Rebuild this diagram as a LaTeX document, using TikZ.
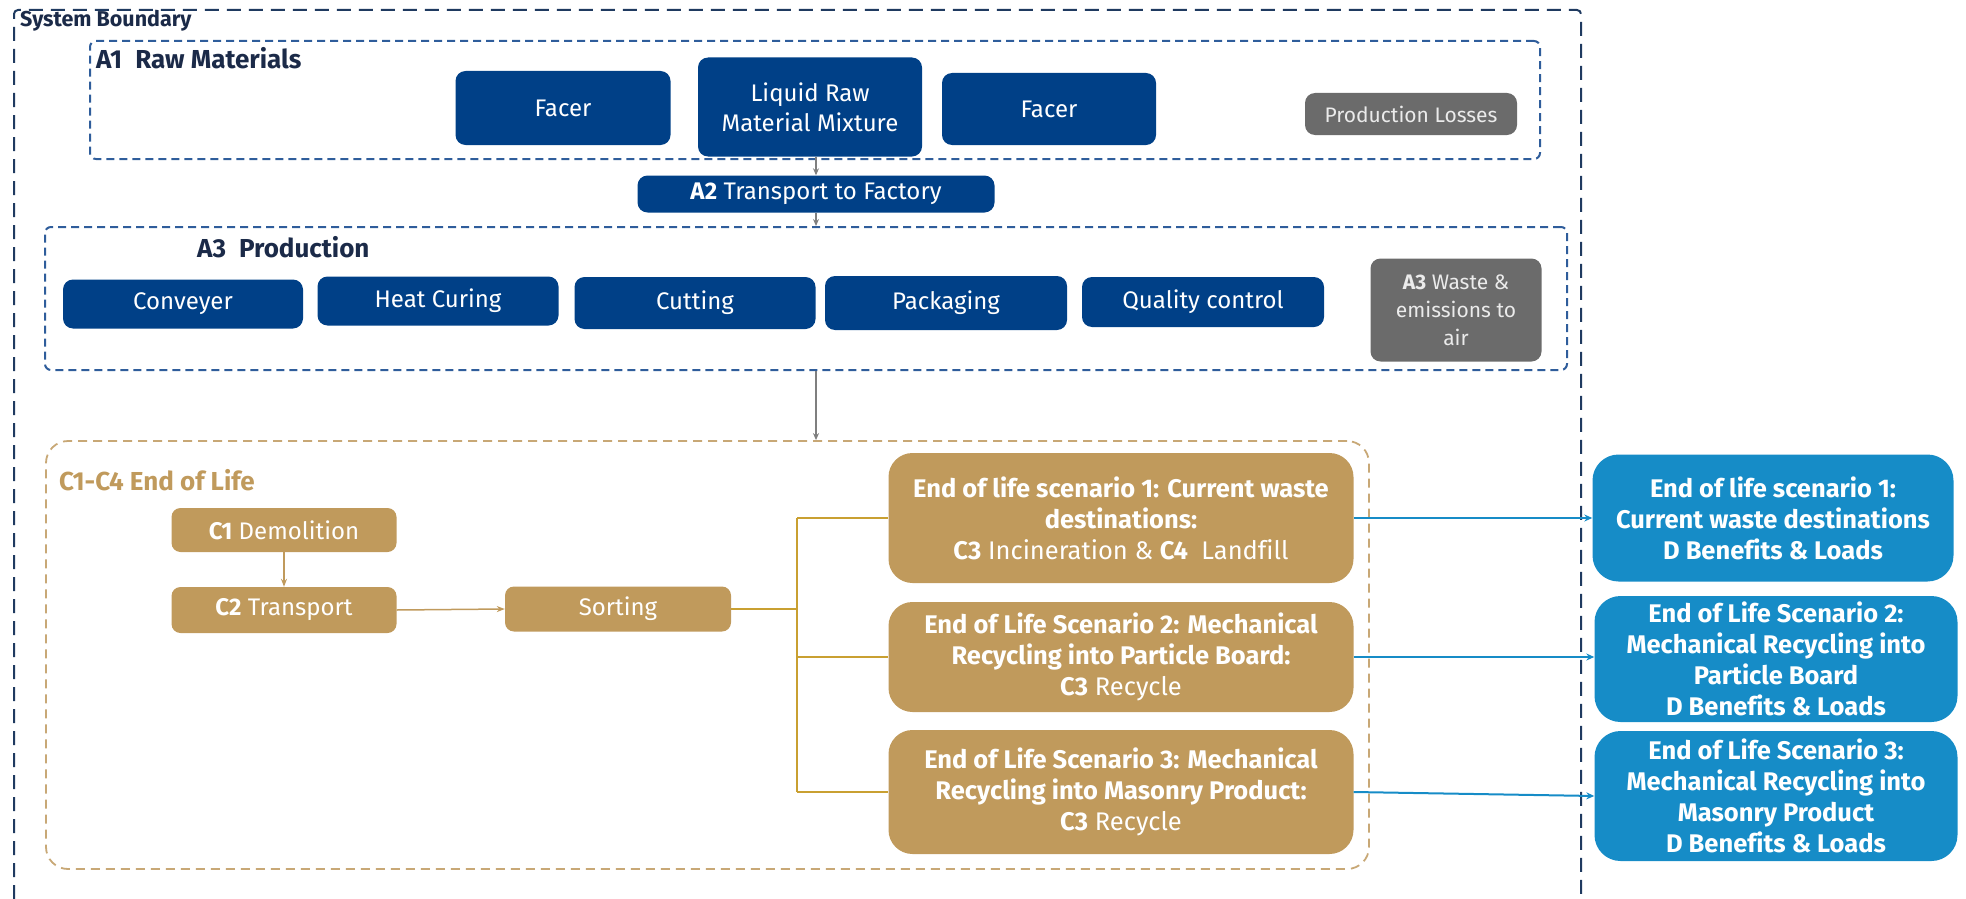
\documentclass[tikz,border=0pt]{standalone}
\usepackage{fontspec}
\setmainfont{Fira Sans}[Ligatures=NoCommon]
\usetikzlibrary{arrows.meta}
\definecolor{navy}{HTML}{004087}
\definecolor{navytext}{HTML}{1B2A48}
\definecolor{dashblue}{HTML}{2F5D9B}
\definecolor{boundary}{HTML}{1F3A60}
\definecolor{graybox}{HTML}{6B6B6B}
\definecolor{tan}{HTML}{C09A5C}
\definecolor{tanline}{HTML}{C9A031}
\definecolor{tandash}{HTML}{C8A876}
\definecolor{bluebox}{HTML}{168CC7}
\definecolor{arrowgray}{HTML}{7F7F7F}
\newcommand\boxfont{\fontsize{24}{30}\selectfont}
\newcommand\boldboxfont{\fontsize{25.5}{31}\selectfont\bfseries}
\newcommand\smallboxfont{\fontsize{21}{28}\selectfont}
\tikzset{
  navybox/.style={fill=navy, rounded corners=10pt, text=white, align=center, font=\boxfont, inner sep=0pt},
  graynode/.style={fill=graybox, rounded corners=10pt, text=white!92!black, align=center, font=\smallboxfont, inner sep=0pt},
  tanbox/.style={fill=tan, rounded corners=9pt, text=white, align=center, font=\boxfont, inner sep=0pt},
  eolbox/.style={fill=tan, rounded corners=24pt, text=white, align=center, font=\boldboxfont, inner sep=0pt},
  dbox/.style={fill=bluebox, rounded corners=26pt, text=white, align=center, font=\boldboxfont, inner sep=0pt},
  afframe/.style={draw=dashblue, line width=2pt, dash pattern=on 8pt off 5pt, rounded corners=6pt, inner sep=0pt},
  cframe/.style={draw=tandash, line width=1.8pt, dash pattern=on 9pt off 6pt, rounded corners=22pt, inner sep=0pt},
  frametitle/.style={font=\fontsize{26}{30}\selectfont\bfseries, text=navytext, anchor=west, inner sep=0pt},
  garrow/.style={draw=arrowgray, line width=1.3pt, -{Stealth[length=7pt,width=6pt]}},
  tarrow/.style={draw=tan, line width=1.5pt, -{Stealth[length=8pt,width=6pt]}},
  busline/.style={draw=tanline, line width=2pt},
  barrow/.style={draw=bluebox, line width=2pt, -{Stealth[length=8pt,width=7pt]}},
}
\begin{document}
\begin{tikzpicture}[x=1pt,y=-1pt]
\useasboundingbox (0,0) rectangle (1966,899);
% system boundary
\draw[draw=boundary, line width=2pt, dash pattern=on 14pt off 8pt, rounded corners=4pt] (14,899) |- (1581,10) -- (1581,899);
\node[font=\fontsize{21.5}{24}\selectfont\bfseries, text=navytext, anchor=west, inner sep=0pt] (sbl) at (20,21) {System Boundary};

% A1
\node[afframe, minimum width=1450pt, minimum height=118pt] (a1box) at (815,100) {};
\node[frametitle] (a1t) at (96,58) {A1\hspace{0.5em}Raw Materials};
\node[navybox, minimum width=215pt, minimum height=74pt] (facer1) at (563,108) {Facer};
\node[navybox, minimum width=224pt, minimum height=99pt] (liq) at (810,107) {Liquid Raw\\Material Mixture};
\node[navybox, minimum width=214pt, minimum height=72pt] (facer2) at (1049,109) {Facer};
\node[graynode, minimum width=212pt, minimum height=42pt] (ploss) at (1411,114) {Production Losses};

% A2
\node[navybox, minimum width=357pt, minimum height=37pt] (a2) at (816,194) {\textbf{A2} Transport to Factory};

% A3
\node[afframe, minimum width=1522pt, minimum height=143pt] (a3box) at (806,298.5) {};
\node[frametitle] (a3t) at (197,247) {A3\hspace{0.5em}Production};
\node[navybox, minimum width=240pt, minimum height=49pt] (conv) at (183,304) {Conveyer};
\node[navybox, minimum width=241pt, minimum height=49pt] (heat) at (438,301) {Heat Curing};
\node[navybox, minimum width=241pt, minimum height=52pt] (cut) at (695,303) {Cutting};
\node[navybox, minimum width=242pt, minimum height=54pt] (pack) at (946,303) {Packaging};
\node[navybox, minimum width=242pt, minimum height=50pt] (qc) at (1203,302) {Quality control};
\node[graynode, font=\fontsize{21}{28}\selectfont, minimum width=171pt, minimum height=103pt] (waste) at (1456,310) {\textbf{A3} Waste \&\\emissions to\\air};

% connectors top
\draw[garrow] (liq.south -| a2.north) -- (a2.north);
\draw[garrow] (a2.south) -- (a3box.north -| a2.south);

% C frame
\node[cframe, minimum width=1323pt, minimum height=428pt] (cbox) at (707.5,655) {};
\draw[garrow] (a3box.south -| a2.south) -- (cbox.north -| a2.south);
\node[frametitle, text=tan] (ct) at (59,480) {C1-C4 End of Life};

\node[tanbox, minimum width=225pt, minimum height=44pt] (c1) at (284,530) {\textbf{C1} Demolition};
\node[tanbox, minimum width=225pt, minimum height=46pt] (c2) at (284,610) {\textbf{C2} Transport};
\node[tanbox, minimum width=226pt, minimum height=45pt] (sort) at (618,609) {Sorting};
\draw[tarrow] (c1.south) -- (c2.north);
\draw[tarrow] (c2.east) -- (sort.west);

\node[eolbox, minimum width=465pt, minimum height=130pt] (eol1) at (1121,518) {End of life scenario 1: Current waste\\destinations:\\\mdseries\textbf{C3} Incineration \& \textbf{C4}\ \ Landfill};
\node[eolbox, minimum width=465pt, minimum height=110pt] (eol2) at (1121,657) {End of Life Scenario 2: Mechanical\\Recycling into Particle Board:\\\mdseries\textbf{C3} Recycle};
\node[eolbox, minimum width=465pt, minimum height=124pt] (eol3) at (1121,792) {End of Life Scenario 3: Mechanical\\Recycling into Masonry Product:\\\mdseries\textbf{C3} Recycle};

\coordinate (jn) at (797,609);
\draw[busline] (sort.east) -- (jn);
\draw[busline] (eol1.west -| jn) -- (eol3.west -| jn);
\draw[busline] (eol1.west -| jn) -- (eol1.west);
\draw[busline] (eol2.west -| jn) -- (eol2.west);
\draw[busline] (eol3.west -| jn) -- (eol3.west);

% D boxes
\node[dbox, minimum width=361pt, minimum height=127pt] (d1) at (1773,518) {End of life scenario 1:\\Current waste destinations\\D Benefits \& Loads};
\node[dbox, minimum width=363pt, minimum height=126pt] (d2) at (1776,659) {End of Life Scenario 2:\\Mechanical Recycling into\\Particle Board\\D Benefits \& Loads};
\node[dbox, minimum width=363pt, minimum height=130pt] (d3) at (1776,796) {End of Life Scenario 3:\\Mechanical Recycling into\\Masonry Product\\D Benefits \& Loads};

\draw[barrow] (eol1.east) -- (eol1.east -| d1.west);
\draw[barrow] (eol2.east) -- (eol2.east -| d2.west);
\draw[barrow] (eol3.east) -- (d3.west);
\end{tikzpicture}
\end{document}
